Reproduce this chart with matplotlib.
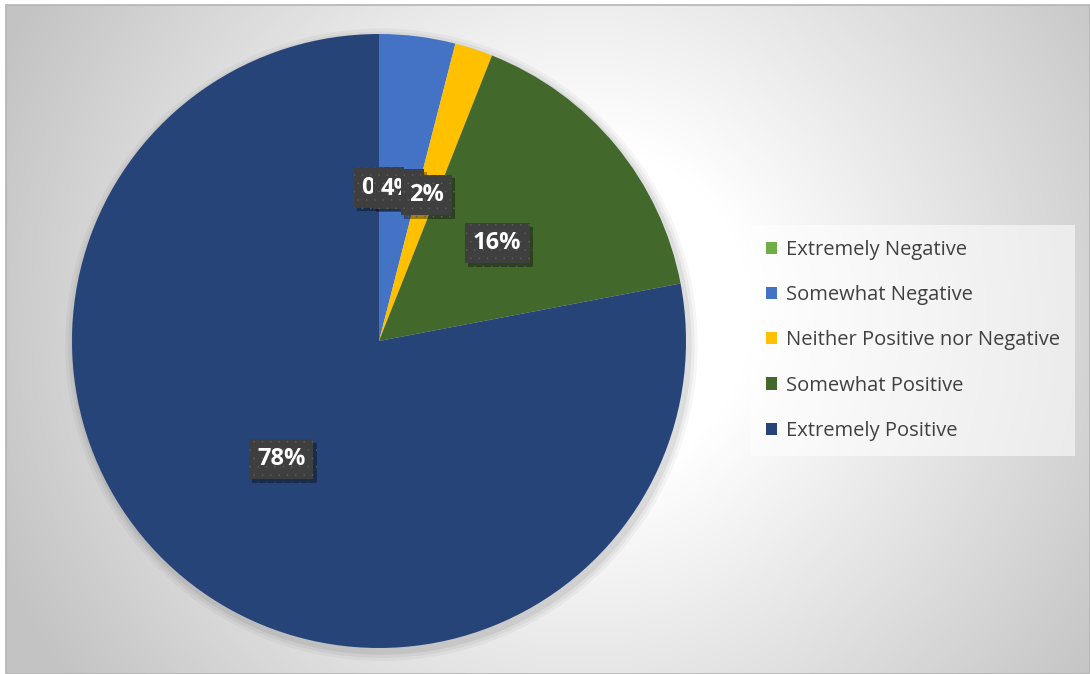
import numpy as np
import matplotlib
matplotlib.use('Agg')
import matplotlib.pyplot as plt
import matplotlib.patheffects as pe
from matplotlib.patches import Rectangle

plt.rcParams['font.family'] = ['Open Sans', 'DejaVu Sans']
plt.rcParams['hatch.linewidth'] = 0.0

# survey response shares (%)
categories = ['Extremely Negative', 'Somewhat Negative', 'Neither Positive nor Negative',
              'Somewhat Positive', 'Extremely Positive']
shares = [0, 4, 2, 16, 78]
colors = ['#70AD47', '#4472C4', '#FFC000', '#43682B', '#264478']

W, H = 1090, 674
fig = plt.figure(figsize=(W / 100, H / 100), dpi=100)
fig.patch.set_facecolor('white')

# background panel with a soft radial gradient
bg = fig.add_axes([0, 0, 1, 1])
bg.set_xlim(0, W)
bg.set_ylim(H, 0)
bg.axis('off')
yy, xx = np.mgrid[0:H, 0:W]
d = np.hypot(xx - 580, yy - 310)
t = np.clip((d - 170) / 470, 0, 1)
shade = 1 - (1 - 0.765) * t
img = np.dstack([shade, shade, shade])
bg.imshow(img, extent=(6, W, H, 5), zorder=0, interpolation='bilinear')
bg.add_patch(Rectangle((6, 5), W - 6, H - 5, fill=False, edgecolor='#b4b4b4', lw=1.2, zorder=1))

# pie axes: centre (379, 341) px, radius 307 px
R = 307
half = 325
cx, cy = 379, H - 341
ax = fig.add_axes([(cx - half) / W, (cy - half) / H, 2 * half / W, 2 * half / H])

wedges, _, autotexts = ax.pie(
    shares, colors=colors, startangle=90, counterclock=False,
    autopct='%.0f%%', pctdistance=0.5, radius=1,
    wedgeprops=dict(linewidth=0),
    textprops=dict(color='white', fontsize=17, fontweight='bold'))
ax.set_xlim(-half / R, half / R)
ax.set_ylim(-half / R, half / R)
ax.set_aspect('equal')
ax.axis('off')

# faint shadow under the pie
for k, a in zip([1.03, 1.02, 1.01], [0.035, 0.045, 0.06]):
    ax.add_patch(plt.Circle((0.008, -0.012), k, color='black', alpha=a, lw=0, zorder=0))

for t_ in autotexts:
    t_.set_zorder(5)
    t_.set_bbox(dict(boxstyle='square,pad=0.34', facecolor='#3f3f3f',
                     edgecolor='#5e5e5e', hatch='..', linewidth=0))
    t_.get_bbox_patch().set_path_effects([
        pe.SimplePatchShadow(offset=(2.5, -2.5), shadow_rgbFace='black', alpha=0.35),
        pe.Normal()])

leg = fig.legend(wedges, categories, loc='center left',
                 bbox_to_anchor=(751 / W, (H - 340.5) / H), bbox_transform=fig.transFigure,
                 frameon=True, fancybox=False, fontsize=14.5,
                 handlelength=0.55, handleheight=0.55, handletextpad=0.45,
                 labelspacing=1.25, borderpad=0.75, borderaxespad=0)
leg.get_frame().set_facecolor('white')
leg.get_frame().set_alpha(0.55)
leg.get_frame().set_linewidth(0)
for txt in leg.get_texts():
    txt.set_color('#404040')

fig.savefig('out.png', dpi=100, facecolor='white')
